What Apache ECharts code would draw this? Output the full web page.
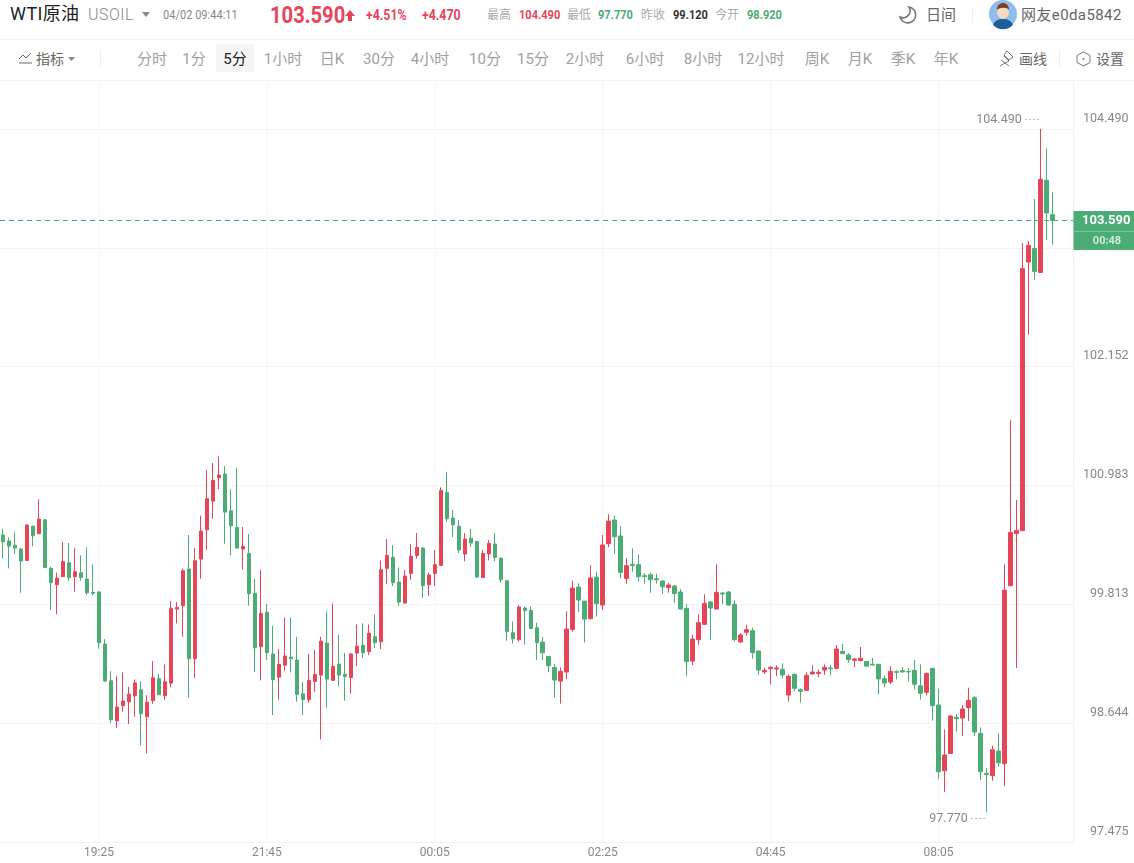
<!DOCTYPE html>
<html>
<head>
<meta charset="utf-8">
<title>WTI原油</title>
<script src="https://cdn.jsdelivr.net/npm/echarts@6/dist/echarts.min.js"></script>
<style>
    html, body { margin: 0; padding: 0; background: #fff; overflow: hidden; }
    body { font-family: Roboto, "Noto Sans CJK SC", sans-serif; }
    #chart { position: absolute; left: 0; top: 0; width: 1134px; height: 863px; }
    #head { position: absolute; left: 0; top: 0; width: 1134px; height: 80px; background: #fff; z-index: 5; }
    #head span { position: absolute; white-space: nowrap; line-height: 20px; }
    #head svg { position: absolute; }
    .hr { position: absolute; left: 0; width: 1134px; height: 1px; background: #f2f2f2; }
    .vr { position: absolute; width: 1px; background: #efefef; }
    .tab { font-size: 15px; color: #a0a0a0; top: 49px; transform: translateX(-50%); }
    .lab { font-size: 12px; color: #aaa; top: 5px; }
    .num { font-size: 13px; font-weight: 700; top: 5px; transform: scaleX(.85); transform-origin: left; }
    .chg { font-size: 14px; font-weight: 700; top: 5px; color: #e8455a; transform: scaleX(.88); transform-origin: left; }
</style>
</head>
<body>
<div id="head">
    <span style="left:10px;top:4px;font-size:18px;color:#222;letter-spacing:.3px">WTI原油</span>
    <span style="left:88px;top:5px;font-size:16px;font-weight:300;color:#888;letter-spacing:.5px">USOIL</span>
    <svg style="left:141px;top:12px" width="10" height="6"><path d="M1 0H9L5 5Z" fill="#888"/></svg>
    <span style="left:163px;top:5px;font-size:13px;color:#888;transform:scaleX(.85);transform-origin:left">04/02 09:44:11</span>
    <span style="left:270px;top:5px;font-size:24px;font-weight:700;color:#e8455a;transform:scaleX(.84);transform-origin:left">103.590</span>
    <svg style="left:344px;top:9px" width="12" height="13"><path d="M6 1L11 7H8V12H4V7H1Z" fill="#e8455a"/></svg>
    <span class="chg" style="left:366px">+4.51%</span>
    <span class="chg" style="left:422px">+4.470</span>
    <span class="lab" style="left:487px">最高</span>
    <span class="num" style="left:519px;color:#e8455a">104.490</span>
    <span class="lab" style="left:567px">最低</span>
    <span class="num" style="left:598px;color:#4bad75">97.770</span>
    <span class="lab" style="left:641px">昨收</span>
    <span class="num" style="left:673px;color:#333">99.120</span>
    <span class="lab" style="left:715px">今开</span>
    <span class="num" style="left:747px;color:#4bad75">98.920</span>
    <svg style="left:898px;top:5px" width="20" height="20"><path d="M11 2A8 8 0 1 1 2 12A7 7 0 0 0 11 2Z" fill="none" stroke="#777" stroke-width="1.6"/></svg>
    <span style="left:926px;top:5px;font-size:15px;color:#666">日间</span>
    <div class="vr" style="left:972px;top:8px;height:15px"></div>
    <svg style="left:989px;top:0" width="28" height="30" viewBox="0 0 28 30">
        <circle cx="14" cy="14" r="14" fill="#8fbdf0"/>
        <path d="M4 25C6 20 10 19 14 19S22 20 24 25A14 14 0 0 1 4 25Z" fill="#1f5d96"/>
        <ellipse cx="14" cy="12" rx="6" ry="7" fill="#f6d9c4"/>
        <path d="M8 10C8 5 11 3 14 3S20 5 20 10C18 7 11 7 8 10Z" fill="#7a4420"/>
    </svg>
    <span style="left:1021px;top:5px;font-size:15px;color:#666;letter-spacing:.4px">网友e0da5842</span>
    <div class="hr" style="top:39px"></div>

    <svg style="left:18px;top:52px" width="15" height="13"><path d="M1 7L5 3L8 6L13 1" fill="none" stroke="#666"/><path d="M1 11H14" stroke="#666"/></svg>
    <span style="left:36px;top:49px;font-size:14px;color:#666">指标</span>
    <svg style="left:68px;top:57px" width="8" height="5"><path d="M0 0H7L3.5 4Z" fill="#888"/></svg>
    <div class="vr" style="left:100px;top:50px;height:16px"></div>
    <div style="position:absolute;left:216px;top:44px;width:38px;height:28px;background:#f5f5f5"></div>
    <span class="tab" style="left:152px">分时</span>
    <span class="tab" style="left:194px">1分</span>
    <span class="tab" style="left:235px;color:#222">5分</span>
    <span class="tab" style="left:283px">1小时</span>
    <span class="tab" style="left:332px">日K</span>
    <span class="tab" style="left:379px">30分</span>
    <span class="tab" style="left:430px">4小时</span>
    <span class="tab" style="left:485px">10分</span>
    <span class="tab" style="left:533px">15分</span>
    <span class="tab" style="left:585px">2小时</span>
    <span class="tab" style="left:645px">6小时</span>
    <span class="tab" style="left:703px">8小时</span>
    <span class="tab" style="left:761px">12小时</span>
    <span class="tab" style="left:817px">周K</span>
    <span class="tab" style="left:860px">月K</span>
    <span class="tab" style="left:903px">季K</span>
    <span class="tab" style="left:946px">年K</span>
    <svg style="left:998px;top:50px" width="17" height="18"><path d="M9 1L15 7L11 10L6 5ZM6 6L11 11L7 13L11 16M2 16L7 13L3 10" fill="none" stroke="#777"/></svg>
    <span style="left:1019px;top:49px;font-size:14px;color:#666">画线</span>
    <div class="vr" style="left:1059px;top:50px;height:16px"></div>
    <svg style="left:1076px;top:51px" width="15" height="16"><path d="M7.5 1L14 4.5V11.5L7.5 15L1 11.5V4.5Z" fill="none" stroke="#777"/><circle cx="7.5" cy="8" r="1" fill="#777"/></svg>
    <span style="left:1096px;top:49px;font-size:14px;color:#666">设置</span>
    <div class="hr" style="top:80px"></div>
</div>
<div id="chart"></div>
<script type="text/javascript">
    // 五分钟K线: open close low high, one row per ten bars
    var opens = [
        100.496,100.437,100.397,100.359,100.247,100.584,100.509,100.646,100.169,100.008,
        100.087,100.224,100.087,100.126,100.064,99.932,99.936,99.424,99.063,98.670,
        98.818,98.857,98.916,98.975,98.710,98.867,99.083,98.916,99.040,99.768,
        99.801,100.162,99.280,100.260,100.548,100.830,101.060,101.096,100.735,100.571,
        100.359,100.316,99.923,99.398,99.736,99.326,99.099,99.217,99.296,99.267,
        98.936,98.877,99.057,99.119,99.434,99.067,99.227,99.126,99.096,99.336,
        99.414,99.349,99.496,99.447,100.169,100.277,100.034,99.827,100.119,100.296,
        100.368,100.008,100.119,100.198,100.916,100.663,100.584,100.310,100.466,100.434,
        100.077,100.310,100.408,100.267,100.047,99.536,99.467,99.778,99.755,99.585,
        99.444,99.303,99.195,99.061,99.149,99.569,99.985,99.847,99.674,100.083,
        99.808,100.411,100.644,100.487,100.070,100.208,100.205,100.097,100.106,100.067,
        100.044,99.979,99.995,99.936,99.775,99.257,99.467,99.618,99.837,99.769,
        99.926,99.936,99.815,99.445,99.540,99.556,99.356,99.150,99.183,99.179,
        99.176,98.923,99.127,98.976,98.969,99.130,99.136,99.169,99.189,99.186,
        99.353,99.317,99.264,99.261,99.254,99.225,99.225,99.084,99.051,99.153,
        99.163,99.156,99.166,99.015,98.950,99.186,98.825,98.179,98.349,98.704,
        98.697,98.799,98.897,98.546,98.153,98.130,98.372,98.248,99.998,100.510,
        100.539,103.181,103.315,103.079,103.984,103.646
    ];
    var closes = [
        100.430,100.387,100.368,100.241,100.594,100.489,100.653,100.178,100.028,100.073,
        100.234,100.077,100.136,100.077,99.929,99.923,99.437,99.060,98.680,98.805,
        98.864,98.932,99.043,98.739,98.853,99.093,98.926,99.053,99.775,99.785,
        100.146,99.280,100.244,100.535,100.853,101.034,101.086,100.722,100.588,100.368,
        100.385,99.919,99.388,99.726,99.339,99.076,99.224,99.306,99.280,98.929,
        98.877,99.067,99.126,99.453,99.080,99.205,99.119,99.106,99.326,99.404,
        99.339,99.532,99.437,100.155,100.296,100.028,99.837,100.093,100.287,100.375,
        99.998,100.103,100.205,100.935,100.656,100.597,100.349,100.457,100.417,100.083,
        100.316,100.414,100.277,100.057,99.549,99.477,99.788,99.752,99.578,99.438,
        99.339,99.211,99.070,99.156,99.572,99.975,99.857,99.670,100.074,99.821,
        100.398,100.634,100.480,100.129,100.195,100.195,100.087,100.087,100.057,100.057,
        99.988,100.005,99.920,99.769,99.251,99.474,99.634,99.824,99.778,99.933,
        99.916,99.808,99.468,99.513,99.566,99.340,99.169,99.166,99.196,99.189,
        99.120,99.107,98.989,98.960,99.117,99.150,99.146,99.196,99.183,99.376,
        99.330,99.271,99.277,99.284,99.208,99.218,99.081,99.041,99.156,99.146,
        99.150,99.150,99.028,98.940,99.136,98.819,98.169,98.333,98.717,98.691,
        98.786,98.871,98.559,98.169,98.140,98.385,98.257,99.955,100.523,100.542,
        103.116,103.345,103.089,103.994,103.663,103.590
    ];
    var lows = [
        100.267,100.169,100.310,99.929,100.241,100.387,100.509,100.175,99.759,99.716,
        100.087,100.047,99.939,100.047,99.906,99.906,99.378,99.053,98.647,98.598,
        98.759,98.638,98.710,98.428,98.349,98.837,98.922,98.877,98.998,99.627,
        99.496,98.896,99.086,100.067,100.349,100.656,100.948,100.411,100.296,100.365,
        100.158,99.801,99.149,99.067,99.267,98.726,98.877,99.158,99.145,98.857,
        98.726,98.847,98.955,98.487,98.798,99.067,99.004,98.867,98.935,99.208,
        99.286,99.316,99.385,99.375,100.014,99.995,99.798,99.827,100.054,100.264,
        99.877,99.896,99.995,100.198,100.627,100.476,100.319,100.237,100.378,100.073,
        100.077,100.247,100.238,100.028,99.457,99.428,99.447,99.418,99.575,99.267,
        99.267,99.149,98.897,98.838,99.077,99.546,99.739,99.438,99.667,99.697,
        99.759,100.378,100.310,100.067,100.018,100.136,100.038,100.018,99.929,100.018,
        99.916,99.929,99.828,99.765,99.110,99.218,99.418,99.615,99.467,99.765,
        99.815,99.801,99.448,99.438,99.507,99.281,99.120,99.130,99.028,99.110,
        99.087,98.858,98.960,98.848,98.969,99.127,99.097,99.120,99.120,99.176,
        99.327,99.241,99.199,99.254,99.199,99.215,98.930,98.999,99.032,99.077,
        99.146,99.058,98.979,98.878,98.920,98.671,98.097,97.969,98.349,98.566,
        98.520,98.668,98.520,98.087,97.770,98.080,98.218,98.028,99.998,99.189,
        100.539,102.466,103.007,103.079,103.397,103.351
    ];
    var highs = [
        100.555,100.473,100.525,100.368,100.604,100.584,100.847,100.650,100.185,100.126,
        100.428,100.418,100.368,100.297,100.375,100.205,99.946,99.473,99.158,99.106,
        99.145,99.004,99.076,99.057,98.922,99.257,99.135,99.224,99.847,99.837,
        100.165,100.496,100.368,100.686,101.135,101.204,101.266,101.175,100.945,101.155,
        100.575,100.506,100.064,100.155,99.818,99.604,99.375,99.686,99.686,99.496,
        99.053,99.326,99.365,99.496,99.745,99.824,99.516,99.336,99.336,99.617,
        99.627,99.617,99.716,100.247,100.457,100.397,100.178,100.152,100.408,100.516,
        100.378,100.126,100.349,100.965,101.116,100.745,100.643,100.516,100.555,100.437,
        100.349,100.447,100.516,100.277,100.051,99.647,99.808,99.795,99.795,99.634,
        99.493,99.303,99.228,99.195,99.746,100.047,100.021,99.847,100.198,100.136,
        100.496,100.700,100.687,100.585,100.267,100.365,100.306,100.120,100.126,100.116,
        100.054,100.024,100.005,99.965,99.818,99.516,99.716,99.913,99.847,100.208,
        99.933,99.946,99.854,99.533,99.615,99.585,99.356,99.189,99.205,99.215,
        99.235,99.127,99.136,98.989,99.146,99.215,99.176,99.225,99.218,99.415,
        99.425,99.336,99.287,99.395,99.258,99.287,99.228,99.117,99.205,99.166,
        99.199,99.189,99.268,99.225,99.143,99.186,98.986,98.586,98.727,98.736,
        98.825,98.995,98.913,98.605,98.205,98.425,98.546,100.208,101.627,100.841,
        103.368,103.387,103.800,104.490,104.299,103.866
    ];
    var priceTicks = [97.475, 98.644, 99.813, 100.983, 102.152, 103.321, 104.490];
    var priceLabels = [97.475, 98.644, 99.813, 100.983, 102.152, 104.490];
    var timeLabels = ['19:25', '21:45', '00:05', '02:25', '04:45', '08:05'];
    var lastPrice = 103.590;
    var countdown = '00:48';
    var highBar = 173, highPrice = 104.490;
    var lowBar = 164, lowPrice = 97.770;

    var UP = '#e64558', DOWN = '#4bad75';

    // 时间轴: 18:05 起每5分钟, 05:00-06:00 休市, 右边留3根空位
    var categories = [];
    for (var i = 0; i < 179; i++) {
        var m = 18 * 60 + 5 + i * 5 + (i > 130 ? 60 : 0);
        var h = Math.floor(m / 60) % 24;
        categories.push((h < 10 ? '0' : '') + h + ':' + (m % 60 < 10 ? '0' : '') + (m % 60));
    }

    var bars = opens.map(function (o, i) {
        return [o, closes[i], lows[i], highs[i]];
    });

    var myChart = echarts.init(document.getElementById('chart'));
    myChart.setOption({
        animation: false,
        textStyle: { fontFamily: 'Roboto, sans-serif' },
        grid: { left: -0.5, top: 81, width: 1074, height: 761.3, containLabel: false },
        xAxis: {
            type: 'category',
            data: categories,
            boundaryGap: true,
            axisLine: { show: true, lineStyle: { color: '#f2f2f2' } },
            axisTick: { show: false, alignWithLabel: true },
            axisLabel: {
                color: '#888',
                fontSize: 12,
                margin: 5,
                interval: function (i, v) { return timeLabels.indexOf(v) >= 0 && i > 0; }
            },
            splitLine: {
                show: true,
                alignWithLabel: true,
                lineStyle: { color: '#f5f5f5' },
                interval: function (i, v) { return timeLabels.indexOf(v) >= 0 && i > 0; }
            }
        },
        yAxis: {
            type: 'value',
            position: 'right',
            min: 97.475,
            max: 104.961,
            scale: true,
            axisLine: { show: true, lineStyle: { color: '#f2f2f2' } },
            axisTick: { show: false, customValues: priceTicks },
            axisLabel: {
                customValues: priceLabels,
                color: '#888',
                fontSize: 12.5,
                align: 'right',
                verticalAlign: 'bottom',
                margin: 55,
                padding: [0, 0, 4, 0],
                formatter: function (v) { return v.toFixed(3); }
            },
            splitLine: { show: true, lineStyle: { color: '#f5f5f5' } }
        },
        series: [{
            type: 'candlestick',
            data: bars,
            barWidth: 4,
            itemStyle: { color: UP, color0: DOWN, borderColor: UP, borderColor0: DOWN, borderWidth: 1 },
            markLine: {
                silent: true,
                symbol: 'none',
                animation: false,
                lineStyle: { color: DOWN, type: [5, 4], width: 1 },
                label: {
                    position: 'end',
                    distance: 0,
                    offset: [0, 10],
                    formatter: '{a|' + lastPrice.toFixed(3) + '}\n{s|}\n{b|' + countdown + '}',
                    backgroundColor: DOWN,
                    width: 61,
                    height: 39,
                    align: 'left',
                    rich: {
                        a: { color: '#fff', fontWeight: 700, fontSize: 13, width: 51, padding: [0, 4, 0, 0], align: 'right', lineHeight: 20 },
                        s: { width: 61, height: 1, lineHeight: 1, backgroundColor: '#7cc49b' },
                        b: { color: '#cfe9da', fontSize: 11, fontWeight: 700, width: 54, padding: [0, 0, 0, 6], align: 'center', lineHeight: 19 }
                    }
                },
                data: [{ yAxis: lastPrice }]
            },
            markPoint: {
                silent: true,
                symbol: 'circle',
                symbolSize: 0,
                animation: false,
                itemStyle: { color: 'transparent' },
                label: {
                    position: 'left',
                    distance: 0,
                    rich: {
                        v: { color: '#888', fontSize: 12.5 },
                        d: { color: '#888', fontSize: 8, padding: [0, 0, 0, 3] }
                    }
                },
                data: [
                    {
                        coord: [highBar, highPrice],
                        label: { offset: [-1, -9], formatter: '{v|' + highPrice.toFixed(3) + '}{d|- - - -}' }
                    },
                    {
                        coord: [lowBar, lowPrice],
                        label: { offset: [-1, 7], formatter: '{v|' + lowPrice.toFixed(3) + '}{d|- - - -}' }
                    }
                ]
            }
        }]
    });
</script>
</body>
</html>
